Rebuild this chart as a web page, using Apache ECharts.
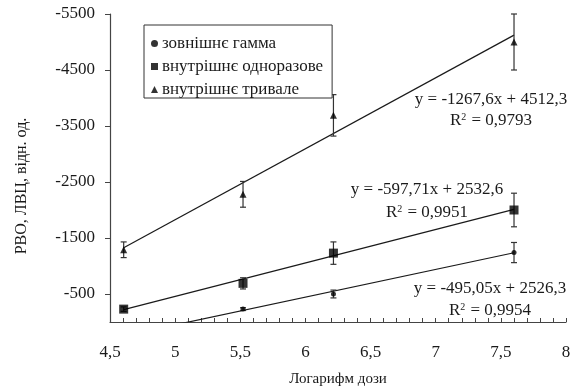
<!DOCTYPE html>
<html>
<head>
<meta charset="utf-8">
<script src="https://cdn.jsdelivr.net/npm/echarts@6/dist/echarts.min.js"></script>
<style>
  html, body { margin: 0; padding: 0; background: #fff; }
  #chart { width: 576px; height: 392px; }
</style>
</head>
<body>
<div id="chart"></div>
<script>
// Log-dose positions (ln of dose)
const logDose = [4.605, 5.521, 6.215, 7.601];

const seriesNames = ['зовнішнє гамма', 'внутрішнє одноразове', 'внутрішнє тривале'];

// Measured values and their error half-widths
const gammaExt   = [null, -230, -500, -1240];
const gammaExtErr = [0, 25, 70, 180];
const singleInt  = [-230, -690, -1230, -2000];
const singleIntErr = [40, 100, 200, 300];
const chronicInt = [-1290, -2280, -3690, -5000];
const chronicIntErr = [140, 230, 370, 500];

// Linear fits: y = slope * x + intercept, with R^2
const fitSlope = [-495.05, -597.71, -1267.6];
const fitIntercept = [2526.3, 2532.6, 4512.3];
const fitR2 = [0.9954, 0.9951, 0.9793];

const yLabelValues = [-5500, -4500, -3500, -2500, -1500, -500];
const xLabelValues = [4.5, 5, 5.5, 6, 6.5, 7, 7.5, 8];

const FONT = '"Liberation Serif", "Times New Roman", serif';
const INK = '#1a1a1a';

const values = [gammaExt, singleInt, chronicInt];
const errors = [gammaExtErr, singleIntErr, chronicIntErr];
const symbols = ['circle', 'rect', 'triangle'];
const symbolSizes = [5, 9, 7];

function comma(v) { return String(v).replace('.', ','); }

function fitLine(i) {
  const x0 = logDose[0], x1 = logDose[logDose.length - 1];
  return [[x0, fitSlope[i] * x0 + fitIntercept[i]], [x1, fitSlope[i] * x1 + fitIntercept[i]]];
}

function errData(i) {
  const out = [];
  values[i].forEach((v, k) => {
    if (v != null) out.push([logDose[k], v - errors[i][k], v + errors[i][k]]);
  });
  return out;
}

function renderErr(params, api) {
  const x = api.value(0);
  const lo = api.coord([x, api.value(1)]);
  const hi = api.coord([x, api.value(2)]);
  const w = 3;
  const style = { stroke: '#333', lineWidth: 1.2 };
  return {
    type: 'group',
    children: [
      { type: 'line', shape: { x1: lo[0], y1: lo[1], x2: hi[0], y2: hi[1] }, style },
      { type: 'line', shape: { x1: lo[0] - w, y1: lo[1], x2: lo[0] + w, y2: lo[1] }, style },
      { type: 'line', shape: { x1: hi[0] - w, y1: hi[1], x2: hi[0] + w, y2: hi[1] }, style }
    ]
  };
}

const series = [];
values.forEach((vals, i) => {
  series.push({
    name: seriesNames[i] + ' trend',
    type: 'line',
    data: fitLine(i),
    symbol: 'none',
    lineStyle: { color: INK, width: 1.2 },
    silent: true,
    z: 2
  });
  series.push({
    type: 'custom',
    renderItem: renderErr,
    data: errData(i),
    silent: true,
    z: 3
  });
  series.push({
    name: seriesNames[i],
    type: 'scatter',
    data: vals.map((v, k) => (v == null ? null : [logDose[k], v])).filter(d => d),
    symbol: symbols[i],
    symbolSize: symbolSizes[i],
    itemStyle: { color: '#000' },
    z: 4
  });
});

// Fit equations placed beside each trend
const eqPos = [
  { x: 490, y: 289, ry: 311 },
  { x: 427, y: 190, ry: 213 },
  { x: 491, y: 100, ry: 121 }
];
const graphics = [];
fitSlope.forEach((s, i) => {
  graphics.push({
    type: 'text', x: eqPos[i].x, y: eqPos[i].y, z: 10,
    style: {
      text: 'y = ' + comma(s) + 'x + ' + comma(fitIntercept[i]),
      align: 'center', verticalAlign: 'middle',
      font: '17px ' + FONT, fill: INK
    }
  });
  graphics.push({
    type: 'text', x: eqPos[i].x, y: eqPos[i].ry, z: 10,
    style: {
      text: 'R{sup|2} = ' + comma(fitR2[i]),
      align: 'center', verticalAlign: 'middle',
      font: '17px ' + FONT, fill: INK,
      rich: { sup: { fontSize: 10, fontFamily: FONT, verticalAlign: 'top', padding: [0, 1, 7, 0] } }
    }
  });
});
graphics.push({
  type: 'text', x: 22, y: 186, rotation: Math.PI / 2, z: 10,
  style: {
    text: 'РВО, ЛВЦ, відн. од.',
    align: 'center', verticalAlign: 'middle',
    font: '16px ' + FONT, fill: INK
  }
});

const chart = echarts.init(document.getElementById('chart'), null, { renderer: 'canvas' });
chart.setOption({
  animation: false,
  backgroundColor: '#fff',
  textStyle: { fontFamily: FONT },
  grid: { left: 110, right: 10, top: 14, bottom: 65, containLabel: false },
  legend: {
    data: seriesNames.map((n, i) => ({ name: n, icon: symbols[i] })),
    orient: 'vertical',
    left: 144, top: 25,
    backgroundColor: '#fff',
    borderColor: '#333', borderWidth: 1,
    padding: [10, 9, 0, 7],
    itemWidth: 7, itemHeight: 7, itemGap: 6,
    textStyle: { fontFamily: FONT, fontSize: 17, color: INK, padding: [0, 0, 0, -1] },
    itemStyle: { color: '#000' },
    z: 8
  },
  xAxis: {
    type: 'value', min: 4.5, max: 8, interval: 0.5,
    name: 'Логарифм дози', nameLocation: 'middle', nameGap: 50,
    nameTextStyle: { fontFamily: FONT, fontSize: 15, color: INK },
    axisLine: { lineStyle: { color: '#444', width: 1.2 } },
    axisTick: { inside: true, length: 4, lineStyle: { color: '#444' } },
    minorTick: { show: true, splitNumber: 5, length: 4, lineStyle: { color: '#444' } },
    splitLine: { show: false },
    axisLabel: {
      margin: 22, fontSize: 17, color: INK, fontFamily: FONT,
      customValues: xLabelValues,
      formatter: v => comma(v)
    }
  },
  yAxis: {
    type: 'value', min: -5500, max: 0, inverse: true,
    axisLine: { show: true, lineStyle: { color: '#444', width: 1.2 } },
    axisTick: { show: true, length: 5, customValues: yLabelValues, lineStyle: { color: '#444' } },
    splitLine: { show: false },
    axisLabel: {
      margin: 15, fontSize: 17, color: INK, fontFamily: FONT,
      customValues: yLabelValues,
      formatter: v => String(v)
    }
  },
  graphic: graphics,
  series
});
</script>
</body>
</html>
